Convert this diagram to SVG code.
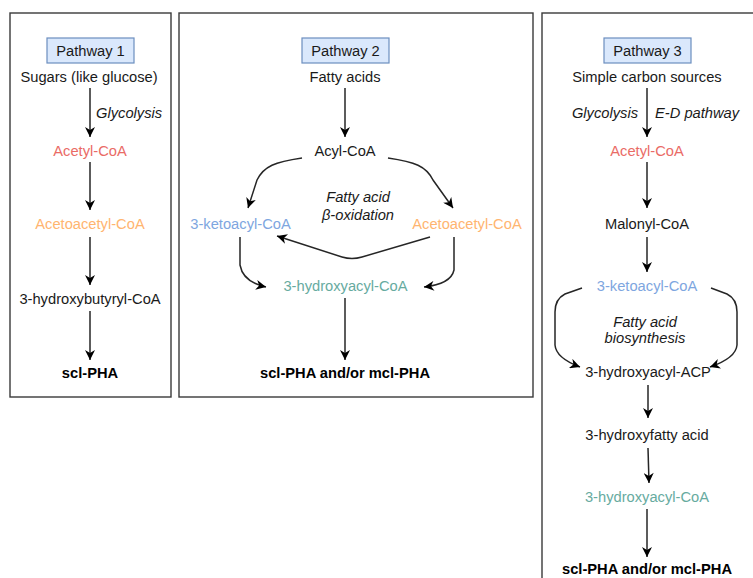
<svg xmlns="http://www.w3.org/2000/svg" width="753" height="578" viewBox="0 0 753 578">
<style>
.panel{fill:#fff;stroke:#3a3a3a;stroke-width:1.4}
.lbl{fill:#dae8fc;stroke:#6c8ebf;stroke-width:1.2}
text{font-family:"Liberation Sans",Arial,sans-serif;font-size:14.7px;fill:#1a1a1a;text-anchor:middle}
.it{font-style:italic}
.b{font-weight:bold;fill:#000}
.red{fill:#EA6B66}
.org{fill:#FFB570}
.blu{fill:#7EA6E0}
.tea{fill:#67AB9F}
.c{fill:none;stroke:#262626;stroke-width:1.5}
</style>
<defs>
<marker id="ah" viewBox="0 0 10 10" refX="10" refY="5" markerWidth="11" markerHeight="10" markerUnits="userSpaceOnUse" orient="auto">
<path d="M0,0 L10,5 L0,10 L3,5 z" fill="#000"/>
</marker>
</defs>
<rect width="753" height="578" fill="#fff"/>
<g id="panels">
<rect class="panel" x="10" y="13" width="161" height="384"/>
<rect class="panel" x="179" y="13" width="354" height="384"/>
<rect class="panel" x="542" y="13" width="230" height="590"/>
</g>
<g id="connectors">
<line class="c" x1="90" y1="88" x2="90" y2="137" marker-end="url(#ah)"/>
<line class="c" x1="90" y1="162" x2="90" y2="210" marker-end="url(#ah)"/>
<line class="c" x1="90" y1="237" x2="90" y2="285" marker-end="url(#ah)"/>
<line class="c" x1="90" y1="311" x2="90" y2="360" marker-end="url(#ah)"/>
<line class="c" x1="345" y1="88" x2="345" y2="137" marker-end="url(#ah)"/>
<path class="c" d="M302,158 C275,162 264,166 257,180 L248,208" marker-end="url(#ah)"/>
<path class="c" d="M388,158 C415,162 426,166 433,180 L453,208" marker-end="url(#ah)"/>
<path class="c" d="M430,237 L362,257 Q352,260 342,257 L277,236" marker-end="url(#ah)"/>
<path class="c" d="M240,237 L240,265 Q243,282 266,287" marker-end="url(#ah)"/>
<path class="c" d="M454,237 L454,270 Q451,284 424,287" marker-end="url(#ah)"/>
<line class="c" x1="345" y1="298" x2="345" y2="360" marker-end="url(#ah)"/>
<line class="c" x1="647" y1="88" x2="647" y2="137" marker-end="url(#ah)"/>
<line class="c" x1="647" y1="162" x2="647" y2="208" marker-end="url(#ah)"/>
<line class="c" x1="647" y1="237" x2="647" y2="272" marker-end="url(#ah)"/>
<path class="c" d="M582,288 L565,294 Q555,299 555,312 L555,345 Q556,358 580,367" marker-end="url(#ah)"/>
<path class="c" d="M711,288 L727,294 Q737,299 737,312 L737,345 Q736,358 710,367" marker-end="url(#ah)"/>
<line class="c" x1="648" y1="385" x2="648" y2="418" marker-end="url(#ah)"/>
<line class="c" x1="648" y1="448" x2="649" y2="483" marker-end="url(#ah)"/>
<line class="c" x1="647" y1="509" x2="647" y2="557" marker-end="url(#ah)"/>
</g>
<g id="p1-label"><rect class="lbl" x="47" y="38" width="87" height="25"/><text x="90.5" y="56">Pathway 1</text></g>
<g id="p1-sugars"><text x="89" y="82">Sugars (like glucose)</text></g>
<g id="p1-glycolysis"><text class="it" x="96" y="118" style="text-anchor:start">Glycolysis</text></g>
<g id="p1-acetyl"><text class="red" x="90" y="156">Acetyl-CoA</text></g>
<g id="p1-acetoacetyl"><text class="org" x="90" y="229">Acetoacetyl-CoA</text></g>
<g id="p1-3hb"><text x="90" y="304">3-hydroxybutyryl-CoA</text></g>
<g id="p1-pha"><text class="b" x="90" y="378">scl-PHA</text></g>
<g id="p2-label"><rect class="lbl" x="302" y="38" width="87" height="25"/><text x="345.5" y="56">Pathway 2</text></g>
<g id="p2-fatty"><text x="345" y="82">Fatty acids</text></g>
<g id="p2-acyl"><text x="345" y="156">Acyl-CoA</text></g>
<g id="p2-beta"><text class="it" x="358" y="202">Fatty acid</text><text class="it" x="358" y="220">β-oxidation</text></g>
<g id="p2-keto"><text class="blu" x="240.5" y="229">3-ketoacyl-CoA</text></g>
<g id="p2-acetoacetyl"><text class="org" x="467" y="229">Acetoacetyl-CoA</text></g>
<g id="p2-hydroxy"><text class="tea" x="345.5" y="291">3-hydroxyacyl-CoA</text></g>
<g id="p2-pha"><text class="b" x="345" y="378">scl-PHA and/or mcl-PHA</text></g>
<g id="p3-label"><rect class="lbl" x="604" y="38" width="87" height="25"/><text x="647.5" y="56">Pathway 3</text></g>
<g id="p3-simple"><text x="647" y="82">Simple carbon sources</text></g>
<g id="p3-glyco"><text class="it" x="638" y="118" style="text-anchor:end">Glycolysis</text><text class="it" x="655" y="118" style="text-anchor:start">E-D pathway</text></g>
<g id="p3-acetyl"><text class="red" x="647" y="156">Acetyl-CoA</text></g>
<g id="p3-malonyl"><text x="647" y="229">Malonyl-CoA</text></g>
<g id="p3-keto"><text class="blu" x="647" y="291">3-ketoacyl-CoA</text></g>
<g id="p3-biosyn"><text class="it" x="645" y="327">Fatty acid</text><text class="it" x="645" y="343">biosynthesis</text></g>
<g id="p3-acp"><text x="648" y="377">3-hydroxyacyl-ACP</text></g>
<g id="p3-hfa"><text x="647" y="440">3-hydroxyfatty acid</text></g>
<g id="p3-hcoa"><text class="tea" x="647" y="502">3-hydroxyacyl-CoA</text></g>
<g id="p3-pha"><text class="b" x="647" y="574">scl-PHA and/or mcl-PHA</text></g>
</svg>
